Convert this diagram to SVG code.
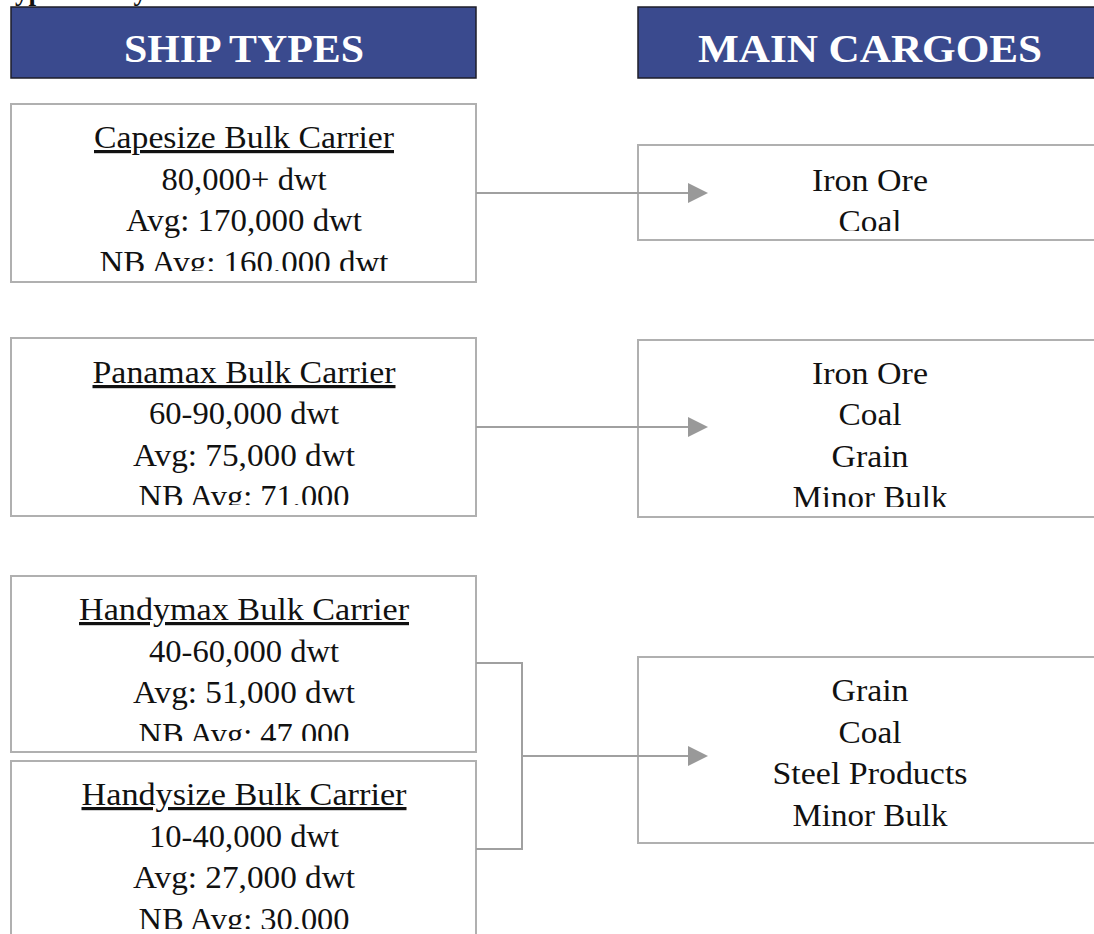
<svg xmlns="http://www.w3.org/2000/svg" width="1094" height="934" viewBox="0 0 1094 934">
<style>
.hdr{fill:#3a4a8e;stroke:#1e1e2a;stroke-width:1.5}
.hdrt{font-family:"Liberation Serif",serif;font-weight:bold;font-size:41px;fill:#ffffff;text-anchor:middle}
.box{fill:#ffffff;stroke:#b0b0b0;stroke-width:2}
.t{font-family:"Liberation Serif",serif;font-size:32px;fill:#111111;text-anchor:middle}
.u{text-decoration:underline}
.con{fill:none;stroke:#a0a0a0;stroke-width:2}
</style>
<defs>
<marker id="arr" markerUnits="userSpaceOnUse" viewBox="0 0 20 20" markerWidth="20" markerHeight="20" refX="0" refY="10" orient="auto">
<path d="M0,0 L20,10 L0,20 z" fill="#999999"/>
</marker>
<clipPath id="clipA"><rect x="11" y="104" width="465" height="167"/></clipPath>
<clipPath id="clipB"><rect x="11" y="338" width="465" height="167"/></clipPath>
<clipPath id="clipC"><rect x="11" y="576" width="465" height="165"/></clipPath>
<clipPath id="clipD"><rect x="11" y="761" width="465" height="168"/></clipPath>
<clipPath id="clipE"><rect x="638" y="145" width="460" height="86"/></clipPath>
<clipPath id="clipF"><rect x="638" y="340" width="460" height="167"/></clipPath>
</defs>
<rect width="1094" height="934" fill="#ffffff"/>
<text x="-1" y="0" font-family="Liberation Serif, serif" font-weight="bold" font-size="27" fill="#111111">Types of Dry Bulk Vessels</text>
<g id="hdr-ship">
<rect class="hdr" x="11" y="7" width="465" height="71"/>
<text class="hdrt" x="244" y="62" textLength="240" lengthAdjust="spacingAndGlyphs">SHIP TYPES</text>
</g>
<g id="hdr-cargo">
<rect class="hdr" x="638" y="7" width="470" height="71"/>
<text class="hdrt" x="870" y="62" textLength="344" lengthAdjust="spacingAndGlyphs">MAIN CARGOES</text>
</g>
<g id="capesize">
<rect class="box" x="11" y="104" width="465" height="178"/>
<g clip-path="url(#clipA)">
<text class="t u" x="244" y="148" textLength="300" lengthAdjust="spacingAndGlyphs">Capesize Bulk Carrier</text>
<text class="t" x="244" y="190" textLength="165" lengthAdjust="spacingAndGlyphs">80,000+ dwt</text>
<text class="t" x="244" y="231" textLength="236" lengthAdjust="spacingAndGlyphs">Avg: 170,000 dwt</text>
<text class="t" x="244" y="273" textLength="289" lengthAdjust="spacingAndGlyphs">NB Avg: 160,000 dwt</text>
</g>
</g>
<g id="panamax">
<rect class="box" x="11" y="338" width="465" height="178"/>
<g clip-path="url(#clipB)">
<text class="t u" x="244" y="383" textLength="303" lengthAdjust="spacingAndGlyphs">Panamax Bulk Carrier</text>
<text class="t" x="244" y="424" textLength="190" lengthAdjust="spacingAndGlyphs">60-90,000 dwt</text>
<text class="t" x="244" y="466" textLength="222" lengthAdjust="spacingAndGlyphs">Avg: 75,000 dwt</text>
<text class="t" x="244" y="507" textLength="211" lengthAdjust="spacingAndGlyphs">NB Avg: 71,000</text>
</g>
</g>
<g id="handymax">
<rect class="box" x="11" y="576" width="465" height="176"/>
<g clip-path="url(#clipC)">
<text class="t u" x="244" y="620" textLength="330" lengthAdjust="spacingAndGlyphs">Handymax Bulk Carrier</text>
<text class="t" x="244" y="662" textLength="190" lengthAdjust="spacingAndGlyphs">40-60,000 dwt</text>
<text class="t" x="244" y="703" textLength="222" lengthAdjust="spacingAndGlyphs">Avg: 51,000 dwt</text>
<text class="t" x="244" y="745" textLength="211" lengthAdjust="spacingAndGlyphs">NB Avg: 47,000</text>
</g>
</g>
<g id="handysize">
<rect class="box" x="11" y="761" width="465" height="190"/>
<g clip-path="url(#clipD)">
<text class="t u" x="244" y="805" textLength="325" lengthAdjust="spacingAndGlyphs">Handysize Bulk Carrier</text>
<text class="t" x="244" y="847" textLength="190" lengthAdjust="spacingAndGlyphs">10-40,000 dwt</text>
<text class="t" x="244" y="888" textLength="222" lengthAdjust="spacingAndGlyphs">Avg: 27,000 dwt</text>
<text class="t" x="244" y="930" textLength="211" lengthAdjust="spacingAndGlyphs">NB Avg: 30,000</text>
</g>
</g>
<g id="cargo-cape">
<rect class="box" x="638" y="145" width="470" height="95"/>
<g clip-path="url(#clipE)">
<text class="t" x="870" y="191" textLength="116" lengthAdjust="spacingAndGlyphs">Iron Ore</text>
<text class="t" x="870" y="232" textLength="63" lengthAdjust="spacingAndGlyphs">Coal</text>
</g>
</g>
<g id="cargo-panamax">
<rect class="box" x="638" y="340" width="470" height="177"/>
<g clip-path="url(#clipF)">
<text class="t" x="870" y="384" textLength="116" lengthAdjust="spacingAndGlyphs">Iron Ore</text>
<text class="t" x="870" y="425" textLength="63" lengthAdjust="spacingAndGlyphs">Coal</text>
<text class="t" x="870" y="467" textLength="77" lengthAdjust="spacingAndGlyphs">Grain</text>
<text class="t" x="870" y="508" textLength="155" lengthAdjust="spacingAndGlyphs">Minor Bulk</text>
</g>
</g>
<g id="cargo-handy">
<rect class="box" x="638" y="657" width="470" height="186"/>
<text class="t" x="870" y="701" textLength="77" lengthAdjust="spacingAndGlyphs">Grain</text>
<text class="t" x="870" y="743" textLength="63" lengthAdjust="spacingAndGlyphs">Coal</text>
<text class="t" x="870" y="784" textLength="195" lengthAdjust="spacingAndGlyphs">Steel Products</text>
<text class="t" x="870" y="826" textLength="155" lengthAdjust="spacingAndGlyphs">Minor Bulk</text>
</g>
<g id="connectors">
<line class="con" x1="476" y1="193" x2="688" y2="193" marker-end="url(#arr)"/>
<line class="con" x1="476" y1="427" x2="688" y2="427" marker-end="url(#arr)"/>
<polyline class="con" points="476,663 522,663 522,849 476,849"/>
<line class="con" x1="522" y1="756" x2="688" y2="756" marker-end="url(#arr)"/>
</g>
</svg>
